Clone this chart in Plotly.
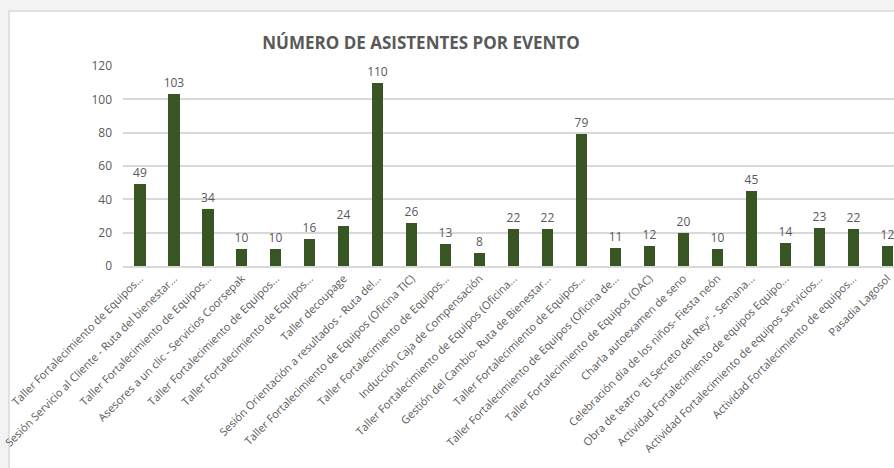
import plotly.graph_objects as go

eventos = [
    "Taller Fortalecimiento de Equipos...",
    "Sesión Servicio al Cliente - Ruta del bienestar...",
    "Taller Fortalecimiento de Equipos...",
    "Asesores a un clic - Servicios Coorsepak",
    "Taller Fortalecimiento de Equipos...",
    "Taller Fortalecimiento de Equipos...",
    "Taller decoupage",
    "Sesión Orientación a resultados - Ruta del...",
    "Taller Fortalecimiento de Equipos (Oficina TIC)",
    "Taller Fortalecimiento de Equipos...",
    "Inducción Caja de Compensación",
    "Taller Fortalecimiento de Equipos (Oficina...",
    "Gestión del Cambio- Ruta de Bienestar...",
    "Taller Fortalecimiento de Equipos...",
    "Taller Fortalecimiento de Equipos (Oficina de...",
    "Taller Fortalecimiento de Equipos (OAC)",
    "Charla autoexamen de seno",
    "Celebración día de los niños- Fiesta neón",
    "Obra de teatro \"El Secreto del Rey\" - Semana...",
    "Actividad Fortalecimiento de equipos Equipo...",
    "Actividad Fortalecimiento de equipos Servicios...",
    "Actividad Fortalecimiento de equipos...",
    "Pasadia Lagosol",
]
asistentes = [49, 103, 34, 10, 10, 16, 24, 110, 26, 13, 8, 22, 22, 79, 11, 12, 20, 10, 45, 14, 23, 22, 12]
y_ticks = [0, 20, 40, 60, 80, 100, 120]

W, H = 894, 468
gris = "#595959"
posiciones = list(range(len(eventos)))

fig = go.Figure(go.Bar(
    x=posiciones,
    y=asistentes,
    width=0.33,
    marker=dict(color="#375623", line=dict(color="#375623", width=0)),
    text=asistentes,
    textposition="outside",
    constraintext="none",
    textfont=dict(color=gris, size=12, family="Open Sans, sans-serif"),
    cliponaxis=False,
))

# marco gris tipo captura de Excel
fig.add_shape(type="rect", xref="paper", yref="paper",
              x0=(9 - 123) / (W - 123), x1=1.05,
              y0=-1.1, y1=(266 - 11) / 200,
              fillcolor="white", line=dict(color="#d9d9d9", width=1.5), layer="below")

fig.update_layout(
    width=W, height=H,
    margin=dict(l=123, r=0, t=66, b=202),
    paper_bgcolor="#f3f3f3",
    plot_bgcolor="white",
    font=dict(family="Open Sans, sans-serif", color=gris),
    title=dict(text="<b>NÚMERO DE ASISTENTES POR EVENTO</b>", x=421 / W, xanchor="center",
               y=1 - 43 / H, yanchor="middle",
               font=dict(size=17, color=gris, family="Open Sans, sans-serif")),
    showlegend=False,
    bargap=0,
)
fig.update_xaxes(
    range=[-0.5, 22.2],
    tickvals=posiciones, ticktext=eventos,
    tickangle=-45, tickfont=dict(size=11, color=gris, family="Open Sans, sans-serif"),
    ticklabeloverflow="allow", automargin=False,
    showgrid=False, showline=True, linecolor="#d9d9d9", linewidth=1.5,
    ticks="", fixedrange=True,
)
fig.update_yaxes(
    range=[0, 120], tickvals=y_ticks,
    tickfont=dict(size=12, color=gris, family="Open Sans, sans-serif"),
    gridcolor="#d9d9d9", gridwidth=1.5, zeroline=False, automargin=False,
    showline=False, ticks="", ticklabelstandoff=10,
)

fig.write_html("out.html", config={"displayModeBar": False},
               post_script="document.body.style.margin='0';document.body.style.overflow='hidden';")
